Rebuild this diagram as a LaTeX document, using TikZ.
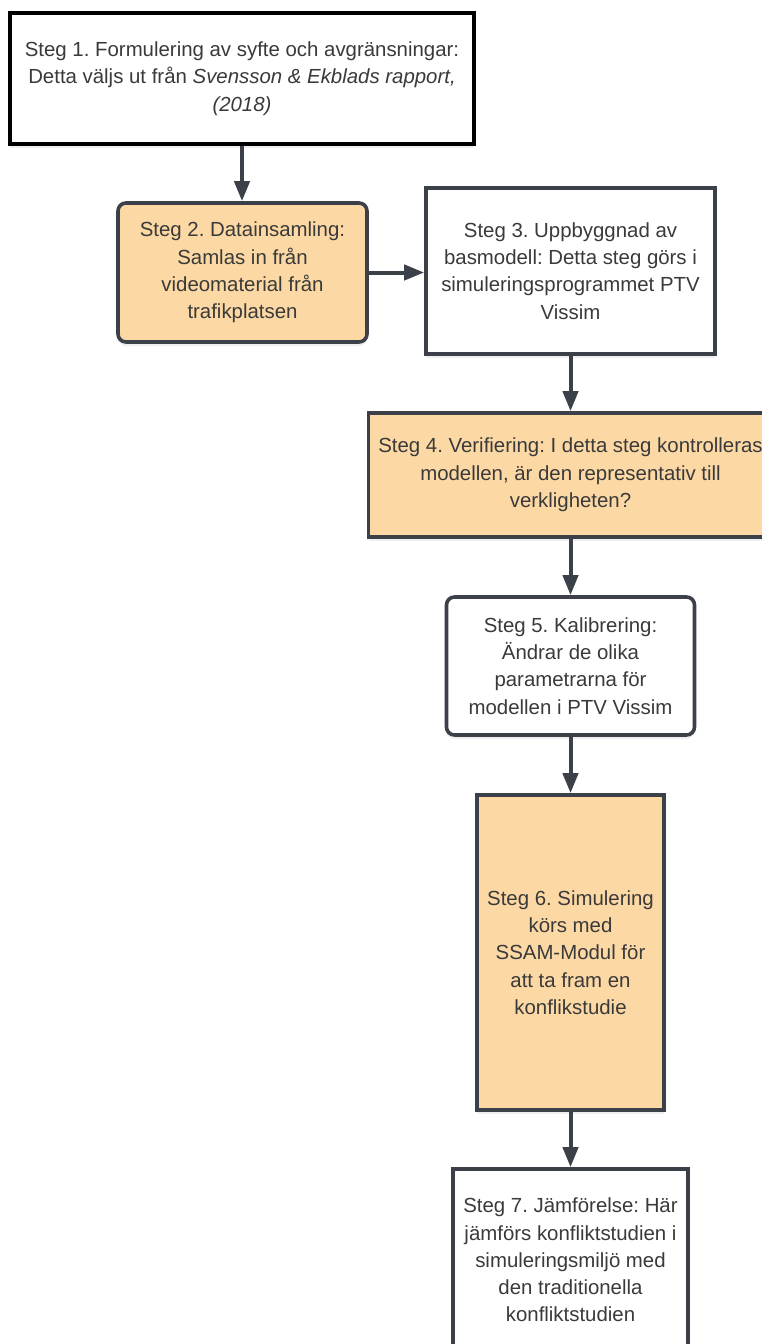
\documentclass[tikz,border=0pt]{standalone}
\usepackage{fontspec}
\setmainfont{Liberation Sans}
\usetikzlibrary{arrows.meta,shadows}
\definecolor{boxorange}{RGB}{252,216,164}
\definecolor{edgegray}{RGB}{60,64,72}
\definecolor{txtgray}{RGB}{58,58,58}
\tikzset{
  stepbox/.style={draw=edgegray, line width=3.6pt, fill=white, align=center,
    text=txtgray, inner sep=0pt,
    font=\fontsize{20.4}{27.3}\selectfont\frenchspacing,
    drop shadow={opacity=0.12, shadow xshift=0pt, shadow yshift=-4pt}},
  orangebox/.style={stepbox, fill=boxorange},
  roundbox/.style={rounded corners=8pt},
  flow/.style={draw=edgegray, line width=4pt,
    -{Triangle[length=20pt,width=15pt]}},
}
\begin{document}
\frenchspacing
\begin{tikzpicture}[x=1pt,y=-1pt]
\useasboundingbox (0,0) rectangle (762,1344);
\clip (0,0) rectangle (762,1344);
\fill[white] (0,0) rectangle (762,1344);

\node[stepbox, draw=black, line width=4pt, minimum width=464pt, minimum height=131pt] (b1) at (242,78.5)
  {Steg 1. Formulering av syfte och avgränsningar:\\
   Detta väljs ut från \textit{Svensson \& Ekblads rapport,}\\
   \textit{(2018)}};

\node[orangebox, roundbox, minimum width=249pt, minimum height=139pt] (b2) at (242.5,272.5)
  {Steg 2. Datainsamling:\\ Samlas in från\\ videomaterial från\\ trafikplatsen};

\node[stepbox, minimum width=289pt, minimum height=166pt] (b3) at (570.5,271)
  {Steg 3. Uppbyggnad av\\ basmodell: Detta steg görs i\\ simuleringsprogrammet PTV\\ Vissim};

\node[orangebox, minimum width=404pt, minimum height=124pt] (b4) at (570.5,475)
  {Steg 4. Verifiering: I detta steg kontrolleras\\ modellen, är den representativ till\\ verkligheten?};

\node[stepbox, roundbox, minimum width=248pt, minimum height=138pt] (b5) at (570.5,666)
  {Steg 5. Kalibrering:\\ Ändrar de olika\\ parametrarna för\\ modellen i PTV Vissim};

\node[orangebox, minimum width=187pt, minimum height=315pt] (b6) at (570.5,952.5)
  {Steg 6. Simulering\\ körs med\\ SSAM-Modul för\\ att ta fram en\\ konflikstudie};

\node[stepbox, minimum width=235pt, minimum height=182pt] (b7) at (570.5,1260)
  {Steg 7. Jämförelse: Här\\ jämförs konfliktstudien i\\ simuleringsmiljö med\\ den traditionella\\ konfliktstudien};

\draw[flow] (b1.south) -- (b1.south |- b2.north);
\draw[flow] (b2.east) -- (b2.east -| b3.west);
\draw[flow] (b3.south) -- (b3.south |- b4.north);
\draw[flow] (b4.south) -- (b4.south |- b5.north);
\draw[flow] (b5.south) -- (b5.south |- b6.north);
\draw[flow] (b6.south) -- (b6.south |- b7.north);
\end{tikzpicture}
\end{document}
